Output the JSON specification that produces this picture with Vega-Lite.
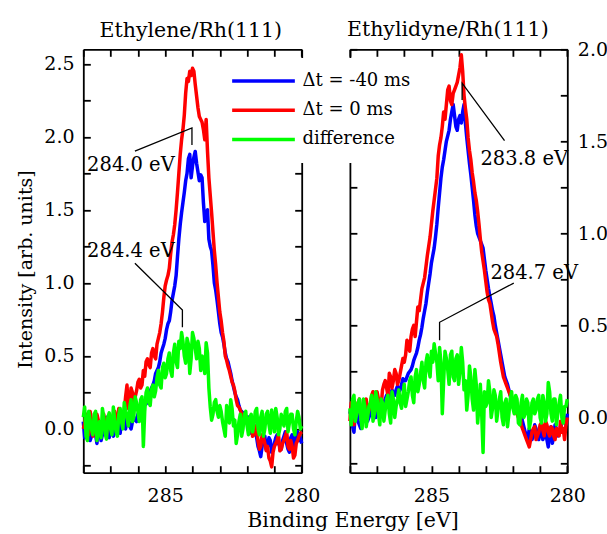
{
  "$schema": "https://vega.github.io/schema/vega-lite/v6.json",
  "autosize": {"type": "none"},
  "padding": {"left": 83.3, "top": 49.3, "right": 523.7, "bottom": 484.7},
  "background": "white",
  "bounds": "flush",
  "spacing": 47.6,
  "config": {
    "font": "DejaVu Serif",
    "view": {"stroke": null},
    "axis": {
      "grid": false, "domainColor": "black", "domainWidth": 1.8, "tickColor": "black", "tickWidth": 1.8, "tickSize": -7,
      "labelColor": "black", "labelFont": "DejaVu Serif", "labelFontSize": 19, "labelFlush": false, "labelOverlap": false,
      "titleFont": "DejaVu Serif", "titleFontWeight": "normal", "titleColor": "black", "titleFontSize": 20.5
    },
    "title": {"font": "DejaVu Serif", "fontSize": 20.5, "fontWeight": "normal", "color": "black", "anchor": "middle"}
  },
  "datasets": {
    "L": [
      {"e":288.0,"b":0.05,"r":0.00,"g":0.08},{"e":287.9,"b":-0.02,"r":0.10,"g":-0.05},{"e":287.8,"b":0.08,"r":-0.04,"g":0.12},
      {"e":287.7,"b":-0.05,"r":0.06,"g":0.00},{"e":287.6,"b":0.03,"r":0.02,"g":0.10},{"e":287.5,"b":-0.10,"r":0.10,"g":-0.08},
      {"e":287.4,"b":0.02,"r":-0.03,"g":0.05},{"e":287.3,"b":-0.04,"r":0.05,"g":0.14},{"e":287.2,"b":0.06,"r":0.00,"g":-0.03},
      {"e":287.1,"b":-0.02,"r":0.08,"g":0.08},{"e":287.0,"b":0.04,"r":0.02,"g":0.00},{"e":286.9,"b":-0.05,"r":0.10,"g":0.15},
      {"e":286.8,"b":0.03,"r":0.04,"g":-0.02},{"e":286.7,"b":0.00,"r":0.14,"g":0.10},{"e":286.6,"b":0.06,"r":0.08,"g":0.05},
      {"e":286.5,"b":0.02,"r":0.12,"g":0.18},{"e":286.4,"b":0.08,"r":0.30,"g":0.08},{"e":286.3,"b":0.02,"r":0.18,"g":0.15},
      {"e":286.2,"b":0.05,"r":0.25,"g":0.05},{"e":286.1,"b":0.06,"r":0.22,"g":0.22},{"e":286.0,"b":0.10,"r":0.32,"g":0.12},
      {"e":285.9,"b":0.09,"r":0.28,"g":0.20},{"e":285.8,"b":0.14,"r":0.40,"g":-0.12},{"e":285.7,"b":0.17,"r":0.46,"g":0.25},
      {"e":285.6,"b":0.22,"r":0.44,"g":0.18},{"e":285.5,"b":0.28,"r":0.52,"g":0.27},{"e":285.4,"b":0.33,"r":0.50,"g":0.22},
      {"e":285.3,"b":0.40,"r":0.58,"g":0.35},{"e":285.2,"b":0.46,"r":0.66,"g":0.30},{"e":285.1,"b":0.55,"r":0.80,"g":0.42},
      {"e":285.0,"b":0.62,"r":0.98,"g":0.35},{"e":284.9,"b":0.72,"r":1.05,"g":0.48},{"e":284.8,"b":0.80,"r":1.20,"g":0.40},
      {"e":284.7,"b":0.93,"r":1.33,"g":0.52},{"e":284.6,"b":1.05,"r":1.50,"g":0.46},{"e":284.5,"b":1.30,"r":1.75,"g":0.60},
      {"e":284.4,"b":1.48,"r":1.98,"g":0.66},{"e":284.3,"b":1.62,"r":2.15,"g":0.50},{"e":284.2,"b":1.75,"r":2.40,"g":0.62},
      {"e":284.1,"b":1.88,"r":2.45,"g":0.38},{"e":284.0,"b":1.80,"r":2.47,"g":0.66},{"e":283.9,"b":1.90,"r":2.36,"g":0.55},
      {"e":283.8,"b":1.76,"r":2.20,"g":0.60},{"e":283.7,"b":1.74,"r":2.12,"g":0.40},{"e":283.6,"b":1.55,"r":2.05,"g":0.45},
      {"e":283.5,"b":1.48,"r":2.12,"g":0.59},{"e":283.4,"b":1.30,"r":1.72,"g":0.28},{"e":283.3,"b":1.22,"r":1.48,"g":0.06},
      {"e":283.2,"b":1.00,"r":1.22,"g":0.18},{"e":283.1,"b":0.88,"r":1.00,"g":0.12},{"e":283.0,"b":0.72,"r":0.80,"g":0.16},
      {"e":282.9,"b":0.63,"r":0.66,"g":0.05},{"e":282.8,"b":0.52,"r":0.50,"g":-0.05},{"e":282.7,"b":0.46,"r":0.43,"g":0.10},
      {"e":282.6,"b":0.38,"r":0.36,"g":0.20},{"e":282.5,"b":0.29,"r":0.30,"g":0.02},{"e":282.4,"b":0.22,"r":0.20,"g":-0.10},
      {"e":282.3,"b":0.16,"r":0.15,"g":0.05},{"e":282.2,"b":0.12,"r":0.10,"g":-0.05},{"e":282.1,"b":0.09,"r":0.08,"g":0.10},
      {"e":282.0,"b":0.07,"r":0.06,"g":0.02},{"e":281.9,"b":0.02,"r":0.00,"g":0.08},{"e":281.8,"b":0.05,"r":-0.05,"g":-0.02},
      {"e":281.7,"b":-0.02,"r":0.02,"g":0.12},{"e":281.6,"b":-0.12,"r":-0.08,"g":0.00},{"e":281.5,"b":-0.19,"r":-0.12,"g":0.08},
      {"e":281.4,"b":-0.08,"r":-0.06,"g":-0.05},{"e":281.3,"b":-0.14,"r":-0.15,"g":0.10},{"e":281.2,"b":-0.06,"r":-0.20,"g":0.03},
      {"e":281.1,"b":-0.16,"r":-0.26,"g":0.13},{"e":281.0,"b":-0.10,"r":-0.12,"g":-0.02},{"e":280.9,"b":-0.04,"r":-0.08,"g":0.08},
      {"e":280.8,"b":-0.12,"r":-0.15,"g":0.00},{"e":280.7,"b":-0.08,"r":-0.10,"g":0.06},{"e":280.6,"b":-0.02,"r":-0.05,"g":0.12},
      {"e":280.5,"b":-0.14,"r":-0.12,"g":-0.02},{"e":280.4,"b":-0.06,"r":-0.08,"g":0.10},{"e":280.3,"b":-0.10,"r":-0.20,"g":0.00},
      {"e":280.2,"b":-0.04,"r":-0.10,"g":0.05},{"e":280.1,"b":-0.08,"r":-0.05,"g":0.08},{"e":280.0,"b":-0.10,"r":-0.02,"g":0.02},
      {"e":287.95,"b":-0.06,"r":0.04,"g":0.15},{"e":287.85,"b":0.10,"r":0.02,"g":-0.08},{"e":287.75,"b":-0.08,"r":0.12,"g":0.06},
      {"e":287.65,"b":0.06,"r":-0.05,"g":-0.04},{"e":287.55,"b":-0.04,"r":0.04,"g":0.12},{"e":287.45,"b":0.04,"r":0.06,"g":0.00},
      {"e":287.35,"b":-0.08,"r":-0.02,"g":-0.06},{"e":287.25,"b":0.02,"r":0.10,"g":0.08},{"e":287.15,"b":0.08,"r":-0.04,"g":-0.07},
      {"e":287.05,"b":-0.06,"r":0.06,"g":0.11},{"e":286.95,"b":0.06,"r":0.00,"g":-0.04},{"e":286.85,"b":-0.02,"r":0.12,"g":0.06},
      {"e":286.75,"b":0.07,"r":0.03,"g":-0.05},{"e":286.65,"b":-0.03,"r":0.10,"g":0.14},{"e":286.55,"b":0.08,"r":0.04,"g":0.00},
      {"e":286.45,"b":0.00,"r":0.22,"g":0.12},{"e":286.35,"b":0.06,"r":0.14,"g":0.02},{"e":286.25,"b":0.00,"r":0.28,"g":0.20},
      {"e":286.15,"b":0.08,"r":0.18,"g":0.08},{"e":286.05,"b":0.05,"r":0.26,"g":0.18},{"e":285.95,"b":0.12,"r":0.34,"g":0.05},
      {"e":285.85,"b":0.10,"r":0.30,"g":0.22},{"e":285.75,"b":0.18,"r":0.36,"g":0.12},{"e":285.65,"b":0.19,"r":0.48,"g":0.28},
      {"e":285.55,"b":0.26,"r":0.42,"g":0.16},{"e":285.45,"b":0.30,"r":0.55,"g":0.30},{"e":285.35,"b":0.38,"r":0.48,"g":0.26},
      {"e":285.25,"b":0.42,"r":0.62,"g":0.40},{"e":285.15,"b":0.52,"r":0.72,"g":0.28},{"e":285.05,"b":0.58,"r":0.90,"g":0.45},
      {"e":284.95,"b":0.68,"r":1.02,"g":0.38},{"e":284.85,"b":0.74,"r":1.10,"g":0.52},{"e":284.75,"b":0.88,"r":1.28,"g":0.36},
      {"e":284.65,"b":0.98,"r":1.40,"g":0.58},{"e":284.55,"b":1.18,"r":1.62,"g":0.42},{"e":284.45,"b":1.40,"r":1.88,"g":0.55},
      {"e":284.35,"b":1.55,"r":2.05,"g":0.60},{"e":284.25,"b":1.70,"r":2.30,"g":0.45},{"e":284.15,"b":1.85,"r":2.38,"g":0.58},
      {"e":284.05,"b":1.72,"r":2.42,"g":0.48},{"e":283.95,"b":1.86,"r":2.45,"g":0.62},{"e":283.85,"b":1.82,"r":2.28,"g":0.48},
      {"e":283.75,"b":1.70,"r":2.14,"g":0.55},{"e":283.65,"b":1.72,"r":2.10,"g":0.50},{"e":283.55,"b":1.42,"r":1.98,"g":0.38},
      {"e":283.45,"b":1.50,"r":1.90,"g":0.52},{"e":283.35,"b":1.25,"r":1.60,"g":0.15},{"e":283.25,"b":1.12,"r":1.35,"g":0.10},
      {"e":283.15,"b":0.95,"r":1.12,"g":0.20},{"e":283.05,"b":0.80,"r":0.90,"g":0.08},{"e":282.95,"b":0.66,"r":0.74,"g":0.12},
      {"e":282.85,"b":0.58,"r":0.60,"g":0.00},{"e":282.75,"b":0.48,"r":0.47,"g":0.16},{"e":282.65,"b":0.42,"r":0.40,"g":0.04},
      {"e":282.55,"b":0.33,"r":0.32,"g":0.14},{"e":282.45,"b":0.25,"r":0.26,"g":0.06},{"e":282.35,"b":0.20,"r":0.16,"g":-0.04},
      {"e":282.25,"b":0.13,"r":0.13,"g":0.10},{"e":282.15,"b":0.11,"r":0.07,"g":0.00},{"e":282.05,"b":0.05,"r":0.09,"g":0.12},
      {"e":281.95,"b":0.08,"r":0.03,"g":-0.04},{"e":281.85,"b":-0.03,"r":0.04,"g":0.10},{"e":281.75,"b":0.03,"r":-0.04,"g":0.03},
      {"e":281.65,"b":-0.06,"r":0.00,"g":0.14},{"e":281.55,"b":-0.15,"r":-0.14,"g":-0.04},{"e":281.45,"b":-0.12,"r":-0.04,"g":0.12},
      {"e":281.35,"b":-0.05,"r":-0.10,"g":0.00},{"e":281.25,"b":-0.12,"r":-0.12,"g":0.12},{"e":281.15,"b":-0.08,"r":-0.22,"g":-0.03},
      {"e":281.05,"b":-0.14,"r":-0.16,"g":0.08},{"e":280.95,"b":-0.06,"r":-0.10,"g":0.14},{"e":280.85,"b":-0.10,"r":-0.04,"g":-0.04},
      {"e":280.75,"b":-0.14,"r":-0.14,"g":0.10},{"e":280.65,"b":-0.05,"r":-0.08,"g":0.02},{"e":280.55,"b":-0.10,"r":-0.02,"g":0.14},
      {"e":280.45,"b":-0.16,"r":-0.14,"g":0.04},{"e":280.35,"b":-0.04,"r":-0.12,"g":0.10},{"e":280.25,"b":-0.12,"r":-0.18,"g":-0.04},
      {"e":280.15,"b":-0.02,"r":-0.08,"g":0.12},{"e":280.05,"b":-0.06,"r":-0.03,"g":0.00}
    ],
    "R": [
      {"e":288.0,"b":0.02,"r":-0.02,"g":0.05},{"e":287.9,"b":-0.05,"r":0.06,"g":0.10},{"e":287.8,"b":0.03,"r":0.02,"g":-0.02},
      {"e":287.7,"b":-0.02,"r":0.08,"g":0.08},{"e":287.6,"b":-0.06,"r":0.00,"g":0.00},{"e":287.5,"b":0.02,"r":0.06,"g":0.10},
      {"e":287.4,"b":0.05,"r":0.10,"g":-0.05},{"e":287.3,"b":0.00,"r":0.04,"g":0.06},{"e":287.2,"b":0.06,"r":0.12,"g":0.12},
      {"e":287.1,"b":0.03,"r":0.06,"g":0.02},{"e":287.0,"b":0.08,"r":0.14,"g":0.10},{"e":286.9,"b":0.04,"r":0.08,"g":-0.04},
      {"e":286.8,"b":0.06,"r":0.15,"g":0.08},{"e":286.7,"b":0.10,"r":0.20,"g":0.04},{"e":286.6,"b":0.08,"r":0.12,"g":0.12},
      {"e":286.5,"b":0.12,"r":0.22,"g":-0.03},{"e":286.4,"b":0.13,"r":0.20,"g":0.10},{"e":286.3,"b":0.15,"r":0.24,"g":0.06},
      {"e":286.2,"b":0.14,"r":0.20,"g":0.15},{"e":286.1,"b":0.18,"r":0.28,"g":0.05},{"e":286.0,"b":0.20,"r":0.30,"g":0.18},
      {"e":285.9,"b":0.22,"r":0.42,"g":0.10},{"e":285.8,"b":0.25,"r":0.36,"g":0.20},{"e":285.7,"b":0.28,"r":0.48,"g":0.12},
      {"e":285.6,"b":0.33,"r":0.44,"g":0.22},{"e":285.5,"b":0.38,"r":0.60,"g":0.14},{"e":285.4,"b":0.45,"r":0.64,"g":0.24},
      {"e":285.3,"b":0.54,"r":0.73,"g":0.20},{"e":285.2,"b":0.62,"r":0.82,"g":0.30},{"e":285.1,"b":0.73,"r":0.93,"g":0.26},
      {"e":285.0,"b":0.84,"r":1.05,"g":0.36},{"e":284.9,"b":0.92,"r":1.18,"g":0.40},{"e":284.8,"b":1.05,"r":1.30,"g":0.30},
      {"e":284.7,"b":1.22,"r":1.48,"g":0.38},{"e":284.6,"b":1.36,"r":1.58,"g":0.02},{"e":284.5,"b":1.45,"r":1.62,"g":0.36},
      {"e":284.4,"b":1.53,"r":1.78,"g":0.26},{"e":284.3,"b":1.62,"r":1.72,"g":0.34},{"e":284.2,"b":1.70,"r":1.76,"g":0.22},
      {"e":284.1,"b":1.58,"r":1.80,"g":0.32},{"e":284.0,"b":1.62,"r":1.86,"g":0.18},{"e":283.9,"b":1.60,"r":1.97,"g":0.38},
      {"e":283.8,"b":1.70,"r":1.75,"g":0.15},{"e":283.7,"b":1.52,"r":1.62,"g":0.04},{"e":283.6,"b":1.38,"r":1.45,"g":0.28},
      {"e":283.5,"b":1.25,"r":1.33,"g":0.10},{"e":283.4,"b":1.10,"r":1.22,"g":0.26},{"e":283.3,"b":1.00,"r":1.12,"g":-0.03},
      {"e":283.2,"b":0.96,"r":0.97,"g":0.18},{"e":283.1,"b":0.92,"r":0.85,"g":-0.19},{"e":283.0,"b":0.80,"r":0.74,"g":0.06},
      {"e":282.9,"b":0.70,"r":0.64,"g":0.20},{"e":282.8,"b":0.62,"r":0.57,"g":0.00},{"e":282.7,"b":0.55,"r":0.48,"g":0.15},
      {"e":282.6,"b":0.46,"r":0.44,"g":-0.02},{"e":282.5,"b":0.38,"r":0.35,"g":0.10},{"e":282.4,"b":0.30,"r":0.26,"g":0.00},
      {"e":282.3,"b":0.22,"r":0.20,"g":0.08},{"e":282.2,"b":0.18,"r":0.16,"g":-0.05},{"e":282.1,"b":0.12,"r":0.12,"g":0.10},
      {"e":282.0,"b":0.10,"r":0.08,"g":0.05},{"e":281.9,"b":0.06,"r":0.04,"g":0.12},{"e":281.8,"b":0.04,"r":0.00,"g":-0.03},
      {"e":281.7,"b":0.02,"r":-0.04,"g":0.08},{"e":281.6,"b":-0.05,"r":-0.08,"g":0.00},{"e":281.5,"b":-0.10,"r":-0.12,"g":0.10},
      {"e":281.4,"b":-0.06,"r":-0.16,"g":-0.06},{"e":281.3,"b":-0.12,"r":-0.08,"g":0.08},{"e":281.2,"b":-0.04,"r":-0.05,"g":0.02},
      {"e":281.1,"b":-0.10,"r":-0.10,"g":0.10},{"e":281.0,"b":-0.05,"r":-0.04,"g":0.00},{"e":280.9,"b":-0.12,"r":-0.07,"g":0.12},
      {"e":280.8,"b":-0.08,"r":-0.02,"g":-0.02},{"e":280.7,"b":-0.16,"r":-0.08,"g":0.19},{"e":280.6,"b":-0.05,"r":-0.05,"g":0.02},
      {"e":280.5,"b":-0.10,"r":-0.10,"g":0.10},{"e":280.4,"b":-0.06,"r":-0.06,"g":-0.04},{"e":280.3,"b":-0.08,"r":-0.10,"g":0.08},
      {"e":280.2,"b":-0.03,"r":-0.08,"g":0.00},{"e":280.1,"b":0.00,"r":-0.12,"g":0.06},{"e":280.0,"b":0.02,"r":0.00,"g":0.10},
      {"e":287.95,"b":0.06,"r":0.08,"g":-0.04},{"e":287.85,"b":-0.08,"r":-0.04,"g":0.12},{"e":287.75,"b":0.05,"r":0.04,"g":0.02},
      {"e":287.65,"b":-0.04,"r":0.10,"g":0.10},{"e":287.55,"b":-0.02,"r":-0.02,"g":-0.06},{"e":287.45,"b":0.07,"r":0.08,"g":0.06},
      {"e":287.35,"b":-0.02,"r":0.02,"g":0.00},{"e":287.25,"b":0.02,"r":0.06,"g":0.08},{"e":287.15,"b":0.08,"r":0.14,"g":-0.02},
      {"e":287.05,"b":0.00,"r":0.04,"g":0.14},{"e":286.95,"b":0.07,"r":0.10,"g":0.02},{"e":286.85,"b":0.02,"r":0.06,"g":0.10},
      {"e":286.75,"b":0.08,"r":0.18,"g":-0.02},{"e":286.65,"b":0.12,"r":0.16,"g":0.10},{"e":286.55,"b":0.06,"r":0.24,"g":0.02},
      {"e":286.45,"b":0.15,"r":0.16,"g":0.14},{"e":286.35,"b":0.12,"r":0.26,"g":0.00},{"e":286.25,"b":0.17,"r":0.18,"g":0.10},
      {"e":286.15,"b":0.15,"r":0.24,"g":0.08},{"e":286.05,"b":0.21,"r":0.32,"g":0.12},{"e":285.95,"b":0.20,"r":0.34,"g":0.06},
      {"e":285.85,"b":0.24,"r":0.40,"g":0.14},{"e":285.75,"b":0.26,"r":0.44,"g":0.22},{"e":285.65,"b":0.31,"r":0.50,"g":0.08},
      {"e":285.55,"b":0.35,"r":0.52,"g":0.26},{"e":285.45,"b":0.42,"r":0.58,"g":0.18},{"e":285.35,"b":0.49,"r":0.70,"g":0.30},
      {"e":285.25,"b":0.58,"r":0.76,"g":0.16},{"e":285.15,"b":0.68,"r":0.88,"g":0.34},{"e":285.05,"b":0.78,"r":0.98,"g":0.22},
      {"e":284.95,"b":0.88,"r":1.12,"g":0.30},{"e":284.85,"b":0.98,"r":1.24,"g":0.35},{"e":284.75,"b":1.14,"r":1.42,"g":0.20},
      {"e":284.65,"b":1.30,"r":1.52,"g":0.30},{"e":284.55,"b":1.40,"r":1.66,"g":0.20},{"e":284.45,"b":1.50,"r":1.70,"g":0.32},
      {"e":284.35,"b":1.56,"r":1.80,"g":0.18},{"e":284.25,"b":1.66,"r":1.70,"g":0.36},{"e":284.15,"b":1.64,"r":1.78,"g":0.20},
      {"e":284.05,"b":1.56,"r":1.82,"g":0.34},{"e":283.95,"b":1.64,"r":1.90,"g":0.25},{"e":283.85,"b":1.66,"r":1.88,"g":0.30},
      {"e":283.75,"b":1.60,"r":1.68,"g":0.20},{"e":283.65,"b":1.45,"r":1.52,"g":0.12},{"e":283.55,"b":1.32,"r":1.40,"g":0.22},
      {"e":283.45,"b":1.18,"r":1.28,"g":0.04},{"e":283.35,"b":1.04,"r":1.18,"g":0.18},{"e":283.25,"b":0.98,"r":1.05,"g":0.06},
      {"e":283.15,"b":0.94,"r":0.90,"g":0.02},{"e":283.05,"b":0.86,"r":0.80,"g":0.14},{"e":282.95,"b":0.75,"r":0.68,"g":0.08},
      {"e":282.85,"b":0.66,"r":0.62,"g":0.14},{"e":282.75,"b":0.58,"r":0.52,"g":0.05},{"e":282.65,"b":0.50,"r":0.46,"g":0.12},
      {"e":282.55,"b":0.42,"r":0.40,"g":0.04},{"e":282.45,"b":0.34,"r":0.30,"g":0.14},{"e":282.35,"b":0.26,"r":0.22,"g":-0.04},
      {"e":282.25,"b":0.20,"r":0.18,"g":0.10},{"e":282.15,"b":0.15,"r":0.14,"g":0.02},{"e":282.05,"b":0.10,"r":0.10,"g":0.14},
      {"e":281.95,"b":0.08,"r":0.06,"g":0.02},{"e":281.85,"b":0.05,"r":0.02,"g":0.10},{"e":281.75,"b":0.00,"r":0.02,"g":-0.04},
      {"e":281.65,"b":-0.02,"r":-0.06,"g":0.12},{"e":281.55,"b":-0.08,"r":-0.10,"g":0.02},{"e":281.45,"b":-0.12,"r":-0.14,"g":0.08},
      {"e":281.35,"b":-0.08,"r":-0.12,"g":-0.02},{"e":281.25,"b":-0.10,"r":-0.06,"g":0.10},{"e":281.15,"b":-0.06,"r":-0.12,"g":0.04},
      {"e":281.05,"b":-0.12,"r":-0.08,"g":0.12},{"e":280.95,"b":-0.08,"r":-0.03,"g":-0.03},{"e":280.85,"b":-0.10,"r":-0.10,"g":0.08},
      {"e":280.75,"b":-0.12,"r":-0.04,"g":0.02},{"e":280.65,"b":-0.08,"r":-0.10,"g":0.14},{"e":280.55,"b":-0.14,"r":-0.06,"g":-0.02},
      {"e":280.45,"b":-0.04,"r":-0.12,"g":0.10},{"e":280.35,"b":-0.10,"r":-0.08,"g":0.02},{"e":280.25,"b":-0.06,"r":-0.02,"g":0.12},
      {"e":280.15,"b":-0.02,"r":-0.06,"g":-0.03},{"e":280.05,"b":-0.04,"r":-0.04,"g":0.06}
    ],
    "annL": [
      {"id":"a","k":0,"e":286.11,"v":1.903},{"id":"a","k":1,"e":284.02,"v":2.061},{"id":"a","k":2,"e":284.02,"v":1.945},
      {"id":"b","k":0,"e":286.11,"v":1.134},{"id":"b","k":1,"e":284.37,"v":0.814},{"id":"b","k":2,"e":284.37,"v":0.696}
    ],
    "annR": [
      {"id":"c","k":0,"e":282.31,"v":1.504},{"id":"c","k":1,"e":283.87,"v":1.816},{"id":"c","k":2,"e":283.87,"v":1.725},
      {"id":"d","k":0,"e":281.97,"v":0.730},{"id":"d","k":1,"e":284.70,"v":0.517},{"id":"d","k":2,"e":284.70,"v":0.419}
    ],
    "txtL": [{"t":"284.0 eV","e":287.86,"v":1.768},{"t":"284.4 eV","e":287.86,"v":1.177}],
    "txtR": [{"t":"283.8 eV","e":283.195,"v":1.372},{"t":"284.7 eV","e":282.83,"v":0.752}]
  },
  "hconcat": [
    {
      "width": 218.4, "height": 423.4,
      "title": {"text": "Ethylene/Rh(111)", "dx": -1.7, "dy": 3, "offset": 10},
      "resolve": {"axis": {"x": "independent", "y": "independent"}},
      "layer": [
        {
          "data": {"name": "L"},
          "mark": {"type": "line", "strokeWidth": 3.5, "strokeJoin": "round"},
          "encoding": {
            "x": {"field": "e", "type": "quantitative", "scale": {"domain": [280, 288], "reverse": true, "nice": false, "zero": false},
                  "axis": {"orient": "bottom", "values": [280,281,282,283,284,285,286,287,288], "labelExpr": "datum.value == 285 || datum.value == 280 ? datum.value : ''",
                           "labelBaseline": "alphabetic", "labelPadding": 36, "title": "Binding Energy [eV]", "titleX": 269.2, "titleY": 54, "titleAlign": "center", "titleBaseline": "alphabetic", "titleAngle": 0}},
            "y": {"field": "b", "type": "quantitative", "scale": {"domain": [-0.3, 2.6], "nice": false, "zero": false},
                  "axis": {"orient": "left", "values": [-0.25,0,0.25,0.5,0.75,1,1.25,1.5,1.75,2,2.25,2.5], "labelExpr": "abs(datum.value*2 - round(datum.value*2)) < 0.001 ? format(datum.value, '.1f') : ''",
                           "labelPadding": 16.3, "title": "Intensity [arb. units]", "titleFontSize": 19, "titleX": -52.3, "titleY": 219.7, "titleAngle": 270, "titleAlign": "center", "titleBaseline": "alphabetic"}},
            "color": {"datum": "Δt = -40 ms", "type": "nominal",
                      "scale": {"domain": ["Δt = -40 ms", "Δt = 0 ms", "difference"], "range": ["#0000ff", "#ff0000", "#00ff00"]},
                      "legend": {"title": null, "orient": "none", "legendX": 134.7, "legendY": 8.7, "symbolType": "stroke", "symbolSize": 3931, "symbolStrokeWidth": 3.5,
                                 "labelFontSize": 18, "labelFont": "DejaVu Serif", "labelColor": "black", "fillColor": "white", "padding": 12, "rowPadding": 7.2,
                                 "clipHeight": 22, "labelOffset": 5.6, "labelLimit": 300, "zindex": 5}}
          }
        },
        {
          "data": {"name": "L"},
          "mark": {"type": "line", "strokeWidth": 3.5, "strokeJoin": "round"},
          "encoding": {
            "x": {"field": "e", "type": "quantitative", "scale": {"domain": [280, 288], "reverse": true, "nice": false, "zero": false}, "axis": null},
            "y": {"field": "r", "type": "quantitative", "scale": {"domain": [-0.3, 2.6], "nice": false, "zero": false}, "axis": null},
            "color": {"datum": "Δt = 0 ms", "type": "nominal"}
          }
        },
        {
          "data": {"name": "L"},
          "mark": {"type": "line", "strokeWidth": 3.5, "strokeJoin": "round"},
          "encoding": {
            "x": {"field": "e", "type": "quantitative", "scale": {"domain": [280, 288], "reverse": true, "nice": false, "zero": false},
                  "axis": {"orient": "top", "values": [280,281,282,283,284,285,286,287,288], "labels": false, "title": null}},
            "y": {"field": "g", "type": "quantitative", "scale": {"domain": [-0.3, 2.6], "nice": false, "zero": false},
                  "axis": {"orient": "right", "values": [-0.25,0,0.25,0.5,0.75,1,1.25,1.5,1.75,2,2.25,2.5], "labels": false, "title": null}},
            "color": {"datum": "difference", "type": "nominal"}
          }
        },
        {
          "data": {"name": "annL"},
          "mark": {"type": "line", "strokeWidth": 1.3, "color": "black"},
          "encoding": {
            "x": {"field": "e", "type": "quantitative", "scale": {"domain": [280, 288], "reverse": true, "nice": false, "zero": false}, "axis": null},
            "y": {"field": "v", "type": "quantitative", "scale": {"domain": [-0.3, 2.6], "nice": false, "zero": false}, "axis": null},
            "detail": {"field": "id"},
            "order": {"field": "k"}
          }
        },
        {
          "data": {"name": "txtL"},
          "mark": {"type": "text", "align": "left", "baseline": "alphabetic", "fontSize": 19.5, "color": "black", "font": "DejaVu Serif"},
          "encoding": {
            "x": {"field": "e", "type": "quantitative", "scale": {"domain": [280, 288], "reverse": true, "nice": false, "zero": false}, "axis": null},
            "y": {"field": "v", "type": "quantitative", "scale": {"domain": [-0.3, 2.6], "nice": false, "zero": false}, "axis": null},
            "text": {"field": "t"}
          }
        }
      ]
    },
    {
      "width": 217.4, "height": 423.4,
      "title": {"text": "Ethylidyne/Rh(111)", "dx": -10.8, "dy": 3, "offset": 3},
      "resolve": {"axis": {"x": "independent", "y": "independent"}},
      "layer": [
        {
          "data": {"name": "R"},
          "mark": {"type": "line", "strokeWidth": 3.5, "strokeJoin": "round"},
          "encoding": {
            "x": {"field": "e", "type": "quantitative", "scale": {"domain": [280, 288], "reverse": true, "nice": false, "zero": false},
                  "axis": {"orient": "bottom", "values": [280,281,282,283,284,285,286,287,288], "labelExpr": "datum.value == 285 || datum.value == 280 ? datum.value : ''",
                           "labelBaseline": "alphabetic", "labelPadding": 36, "title": null}},
            "y": {"field": "b", "type": "quantitative", "scale": {"domain": [-0.3, 2.0], "nice": false, "zero": false},
                  "axis": {"orient": "right", "values": [-0.25,0,0.25,0.5,0.75,1,1.25,1.5,1.75,2], "labelExpr": "abs(datum.value*2 - round(datum.value*2)) < 0.001 ? format(datum.value, '.1f') : ''",
                           "labelPadding": 17, "title": null}},
            "color": {"datum": "Δt = -40 ms", "type": "nominal"}
          }
        },
        {
          "data": {"name": "R"},
          "mark": {"type": "line", "strokeWidth": 3.5, "strokeJoin": "round"},
          "encoding": {
            "x": {"field": "e", "type": "quantitative", "scale": {"domain": [280, 288], "reverse": true, "nice": false, "zero": false}, "axis": null},
            "y": {"field": "r", "type": "quantitative", "scale": {"domain": [-0.3, 2.0], "nice": false, "zero": false}, "axis": null},
            "color": {"datum": "Δt = 0 ms", "type": "nominal"}
          }
        },
        {
          "data": {"name": "R"},
          "mark": {"type": "line", "strokeWidth": 3.5, "strokeJoin": "round"},
          "encoding": {
            "x": {"field": "e", "type": "quantitative", "scale": {"domain": [280, 288], "reverse": true, "nice": false, "zero": false},
                  "axis": {"orient": "top", "values": [280,281,282,283,284,285,286,287,288], "labels": false, "title": null}},
            "y": {"field": "g", "type": "quantitative", "scale": {"domain": [-0.3, 2.0], "nice": false, "zero": false},
                  "axis": {"orient": "left", "values": [-0.25,0,0.25,0.5,0.75,1,1.25,1.5,1.75,2], "labels": false, "title": null}},
            "color": {"datum": "difference", "type": "nominal"}
          }
        },
        {
          "data": {"name": "annR"},
          "mark": {"type": "line", "strokeWidth": 1.3, "color": "black"},
          "encoding": {
            "x": {"field": "e", "type": "quantitative", "scale": {"domain": [280, 288], "reverse": true, "nice": false, "zero": false}, "axis": null},
            "y": {"field": "v", "type": "quantitative", "scale": {"domain": [-0.3, 2.0], "nice": false, "zero": false}, "axis": null},
            "detail": {"field": "id"},
            "order": {"field": "k"}
          }
        },
        {
          "data": {"name": "txtR"},
          "mark": {"type": "text", "align": "left", "baseline": "alphabetic", "fontSize": 19.5, "color": "black", "font": "DejaVu Serif"},
          "encoding": {
            "x": {"field": "e", "type": "quantitative", "scale": {"domain": [280, 288], "reverse": true, "nice": false, "zero": false}, "axis": null},
            "y": {"field": "v", "type": "quantitative", "scale": {"domain": [-0.3, 2.0], "nice": false, "zero": false}, "axis": null},
            "text": {"field": "t"}
          }
        }
      ]
    }
  ]
}
